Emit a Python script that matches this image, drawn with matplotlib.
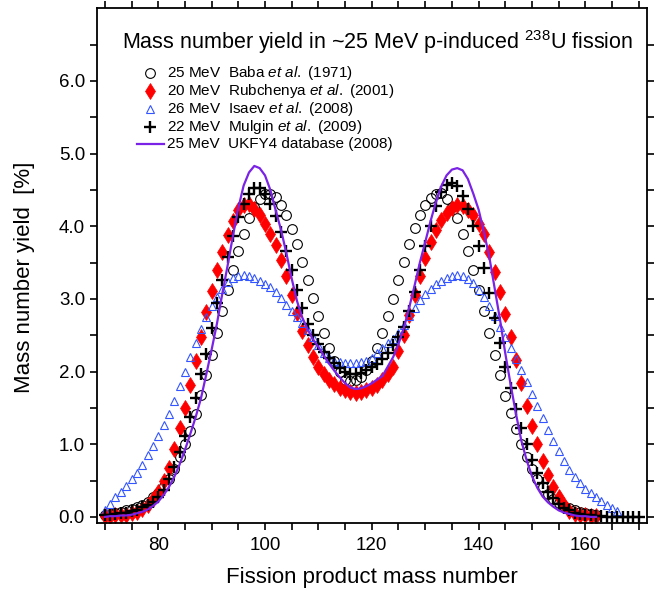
import matplotlib
matplotlib.use("Agg")
import matplotlib.pyplot as plt
import numpy as np
from matplotlib.ticker import MultipleLocator, FixedLocator

plt.rcParams['font.family'] = ['Liberation Sans', 'DejaVu Sans']
plt.rcParams['mathtext.fontset'] = 'custom'
plt.rcParams['mathtext.rm'] = 'Liberation Sans'
plt.rcParams['mathtext.it'] = 'Liberation Sans:italic'

# Baba et al. (1971), 25 MeV, A = 70..162
baba_a = np.arange(70, 163)
baba_y = [0.03, 0.04, 0.05, 0.07, 0.09, 0.11, 0.14, 0.17, 0.21, 0.27,
          0.33, 0.42, 0.52, 0.66, 0.83, 1.00, 1.18, 1.42, 1.68, 1.95,
          2.23, 2.53, 2.84, 3.12, 3.40, 3.66, 3.90, 4.11, 4.26, 4.38,
          4.45, 4.45, 4.40, 4.29, 4.15, 3.96, 3.75, 3.51, 3.26, 3.01,
          2.77, 2.53, 2.32, 2.14, 2.00, 1.89, 1.87, 1.88, 1.93, 2.02,
          2.14, 2.32, 2.53, 2.77, 3.00, 3.26, 3.51, 3.76, 3.97, 4.15,
          4.29, 4.39, 4.45, 4.46, 4.38, 4.26, 4.11, 3.90, 3.66, 3.40,
          3.12, 2.84, 2.53, 2.23, 1.95, 1.67, 1.43, 1.21, 1.00, 0.82,
          0.66, 0.52, 0.41, 0.32, 0.25, 0.19, 0.15, 0.12, 0.09, 0.07,
          0.05, 0.04, 0.03]

# Rubchenya et al. (2001), 20 MeV, A = 70..162
rub_a = np.arange(70, 163)
rub_y = [0.01, 0.01, 0.02, 0.02, 0.03, 0.05, 0.07, 0.11, 0.16, 0.24,
         0.34, 0.50, 0.68, 0.93, 1.23, 1.50, 1.81, 2.14, 2.48, 2.82,
         3.11, 3.40, 3.65, 3.88, 4.07, 4.22, 4.29, 4.30, 4.24, 4.15,
         4.03, 3.90, 3.74, 3.53, 3.31, 3.05, 2.80, 2.56, 2.36, 2.20,
         2.06, 1.96, 1.89, 1.83, 1.78, 1.74, 1.72, 1.71, 1.72, 1.74,
         1.77, 1.82, 1.89, 1.97, 2.07, 2.28, 2.50, 2.78, 3.05, 3.32,
         3.57, 3.78, 3.95, 4.08, 4.18, 4.25, 4.29, 4.28, 4.23, 4.15,
         4.03, 3.89, 3.65, 3.37, 3.10, 2.79, 2.47, 2.16, 1.84, 1.53,
         1.25, 1.00, 0.77, 0.58, 0.41, 0.27, 0.16, 0.08, 0.04, 0.03,
         0.02, 0.01, 0.01]

# Isaev et al. (2008), 26 MeV, A = 70..166
isa_a = np.arange(70, 167)
isa_y = [0.10, 0.18, 0.27, 0.34, 0.43, 0.52, 0.61, 0.71, 0.85, 0.97,
         1.11, 1.26, 1.41, 1.60, 1.80, 2.00, 2.20, 2.40, 2.58, 2.75,
         2.90, 3.03, 3.14, 3.23, 3.29, 3.32, 3.33, 3.32, 3.29, 3.25,
         3.21, 3.16, 3.09, 3.01, 2.92, 2.83, 2.75, 2.67, 2.57, 2.47,
         2.36, 2.26, 2.19, 2.15, 2.13, 2.12, 2.12, 2.12, 2.13, 2.15,
         2.19, 2.25, 2.33, 2.40, 2.45, 2.53, 2.64, 2.76, 2.88, 2.98,
         3.07, 3.14, 3.20, 3.25, 3.29, 3.32, 3.33, 3.32, 3.28, 3.22,
         3.12, 3.02, 2.90, 2.76, 2.62, 2.47, 2.32, 2.17, 2.02, 1.86,
         1.69, 1.52, 1.36, 1.20, 1.05, 0.91, 0.77, 0.65, 0.55, 0.46,
         0.39, 0.33, 0.27, 0.22, 0.17, 0.12, 0.08]

# Mulgin et al. (2009), 22 MeV, A = 70..170
mul_a = np.arange(70, 171)
mul_y = [0.02, 0.03, 0.04, 0.05, 0.06, 0.08, 0.10, 0.13, 0.16, 0.21,
         0.27, 0.37, 0.52, 0.69, 0.89, 1.11, 1.37, 1.64, 1.96, 2.24,
         2.60, 2.94, 3.26, 3.58, 3.86, 4.13, 4.30, 4.45, 4.53, 4.52,
         4.45, 4.31, 4.14, 3.92, 3.66, 3.40, 3.12, 2.87, 2.66, 2.51,
         2.38, 2.27, 2.19, 2.12, 2.05, 2.00, 1.97, 1.96, 1.98, 2.02,
         2.06, 2.11, 2.18, 2.26, 2.36, 2.47, 2.62, 2.84, 3.10, 3.40,
         3.73, 4.01, 4.28, 4.47, 4.57, 4.60, 4.56, 4.42, 4.24, 4.01,
         3.73, 3.42, 3.08, 2.74, 2.40, 2.07, 1.77, 1.48, 1.23, 1.00,
         0.78, 0.61, 0.47, 0.34, 0.26, 0.18, 0.12, 0.09, 0.06, 0.04,
         0.03, 0.02, 0.01, 0.01, 0.0, 0.0, 0.0, 0.0, 0.0, 0.0,
         0.0]

# UKFY4 database (2008), 25 MeV, A = 70..162
ukf_a = np.arange(70, 163)
ukf_y = [0.00, 0.01, 0.01, 0.02, 0.02, 0.03, 0.05, 0.07, 0.10, 0.15,
         0.21, 0.30, 0.41, 0.55, 0.72, 0.92, 1.14, 1.37, 1.63, 1.96,
         2.30, 2.66, 3.07, 3.46, 3.87, 4.25, 4.56, 4.74, 4.83, 4.80,
         4.70, 4.50, 4.22, 3.95, 3.63, 3.28, 2.97, 2.74, 2.58, 2.44,
         2.34, 2.22, 2.11, 2.01, 1.92, 1.84, 1.78, 1.76, 1.77, 1.80,
         1.84, 1.89, 1.94, 2.07, 2.20, 2.38, 2.60, 2.88, 3.18, 3.50,
         3.78, 4.07, 4.33, 4.55, 4.70, 4.78, 4.80, 4.77, 4.65, 4.45,
         4.23, 3.92, 3.58, 3.15, 2.72, 2.25, 1.82, 1.42, 1.05, 0.78,
         0.56, 0.40, 0.28, 0.20, 0.14, 0.09, 0.06, 0.04, 0.02, 0.01,
         0.01, 0.00, 0.00]

labels = [r'25 MeV  Baba $\it{et\ al.}$ (1971)',
          r'20 MeV  Rubchenya $\it{et\ al.}$ (2001)',
          r'26 MeV  Isaev $\it{et\ al.}$ (2008)',
          r'22 MeV  Mulgin $\it{et\ al.}$ (2009)',
          '25 MeV  UKFY4 database (2008)']

fig = plt.figure(figsize=(6.54, 5.90), dpi=100)
ax = fig.add_axes([0.148, 0.114, 0.841, 0.872])

sty_baba = dict(marker='o', ms=7, mfc='none', mec='black', mew=0.8, ls='none')
sty_rub = dict(marker='d', ms=8, color='red', mec='red', mew=0.5, ls='none')
sty_isa = dict(marker='^', ms=6, mfc='none', mec='#3355ff', mew=0.8, ls='none')
sty_mul = dict(marker='+', ms=9, color='black', mew=1.7, ls='none')
sty_ukf = dict(color='#7a22e6', lw=1.6)

ax.plot(baba_a, baba_y, **sty_baba)
ax.plot(rub_a, rub_y, **sty_rub)
ax.plot(isa_a, isa_y, **sty_isa)
ax.plot(mul_a, mul_y, **sty_mul)
ax.plot(ukf_a, ukf_y, zorder=5, **sty_ukf)

# hand-placed legend (axes fraction)
rows = [0.874, 0.839, 0.805, 0.770, 0.736]
tr = ax.transAxes
ax.plot([0.096], [rows[0]], transform=tr, **sty_baba)
ax.plot([0.096], [rows[1]], transform=tr, **sty_rub)
ax.plot([0.096], [rows[2]], transform=tr, **sty_isa)
ax.plot([0.096], [rows[3]], transform=tr, **sty_mul)
ax.plot([0.073, 0.122], [rows[4], rows[4]], transform=tr, **sty_ukf)
for yy, lab in zip(rows, labels):
    ax.text(0.127, yy, lab, transform=tr, ha='left', va='center', fontsize=11)

ax.set_xlim(68.5, 171.5)
ax.set_ylim(-0.08, 7.0)
ax.xaxis.set_major_locator(FixedLocator([80, 100, 120, 140, 160]))
ax.xaxis.set_minor_locator(MultipleLocator(5))
ax.yaxis.set_major_locator(FixedLocator([0, 1, 2, 3, 4, 5, 6]))
ax.yaxis.set_minor_locator(FixedLocator([0.5, 1.5, 2.5, 3.5, 4.5, 5.5, 6.5]))
ax.set_yticklabels(['0.0', '1.0', '2.0', '3.0', '4.0', '5.0', '6.0'])
ax.tick_params(which='both', direction='out', length=5, width=1.2,
               top=True, right=True, labelsize=13.5)
ax.tick_params(axis='x', pad=5)
for s in ax.spines.values():
    s.set_linewidth(1.3)

ax.set_xlabel('Fission product mass number', fontsize=16)
ax.xaxis.set_label_coords(0.5, -0.107)
ax.xaxis.label.set_va('center')
ax.set_ylabel('Mass number yield  [%]', fontsize=16)
ax.yaxis.set_label_coords(-0.131, 0.478)
ax.yaxis.label.set_va('center')

ax.text(0.51, 0.935, r'Mass number yield in ~25 MeV p-induced $^{238}$U fission',
        transform=ax.transAxes, ha='center', va='center', fontsize=15.5)

fig.savefig('out.png', dpi=100)
